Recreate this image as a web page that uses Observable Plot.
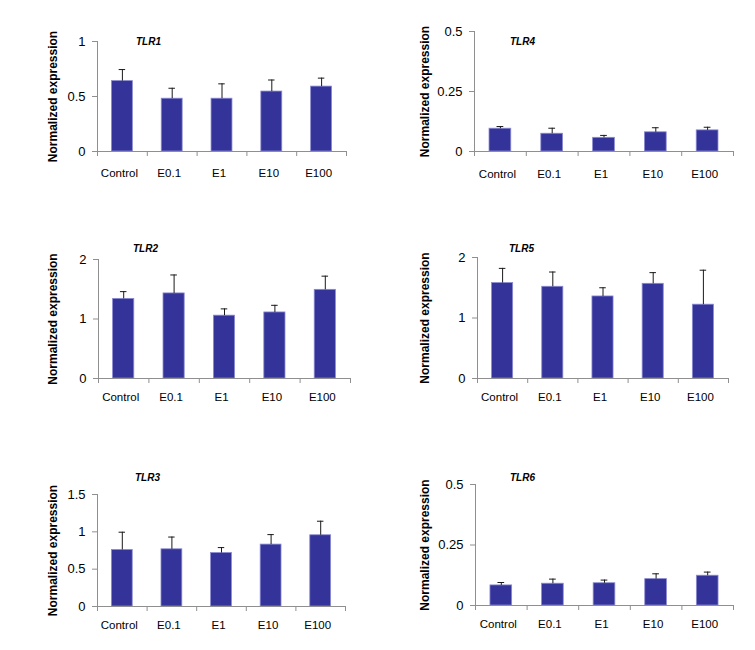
<!DOCTYPE html>
<html>
<head>
<meta charset="utf-8">
<script src="https://cdn.jsdelivr.net/npm/d3@7"></script>
<script src="https://cdn.jsdelivr.net/npm/@observablehq/plot@0.6"></script>
<style>
  html, body { margin: 0; padding: 0; background: #fff; }
  #chart { position: relative; width: 755px; height: 650px; font-family: "Liberation Sans", Arial, sans-serif; }
  #chart .panel { position: absolute; }
  #chart svg { background: transparent !important; overflow: visible; }
</style>
</head>
<body>
<div id="chart"></div>
<script>
// ---- data ----
const categories = ["Control", "E0.1", "E1", "E10", "E100"];
const yLabel = "Normalized expression";

const tlr1Mean = [0.64, 0.48, 0.48, 0.545, 0.59];
const tlr1Err  = [0.105, 0.095, 0.135, 0.105, 0.077];
const tlr1Ticks = [0, 0.5, 1];

const tlr4Mean = [0.095, 0.074, 0.057, 0.080, 0.088];
const tlr4Err  = [0.009, 0.023, 0.010, 0.019, 0.013];
const tlr4Ticks = [0, 0.25, 0.5];

const tlr2Mean = [1.338, 1.43, 1.056, 1.11, 1.49];
const tlr2Err  = [0.122, 0.31, 0.114, 0.12, 0.23];
const tlr2Ticks = [0, 1, 2];

const tlr5Mean = [1.577, 1.516, 1.356, 1.565, 1.22];
const tlr5Err  = [0.243, 0.244, 0.144, 0.185, 0.57];
const tlr5Ticks = [0, 1, 2];

const tlr3Mean = [0.757, 0.766, 0.716, 0.829, 0.954];
const tlr3Err  = [0.238, 0.164, 0.073, 0.134, 0.188];
const tlr3Ticks = [0, 0.5, 1, 1.5];

const tlr6Mean = [0.083, 0.090, 0.092, 0.109, 0.123];
const tlr6Err  = [0.012, 0.019, 0.013, 0.022, 0.015];
const tlr6Ticks = [0, 0.25, 0.5];

// ---- layout (pixel geometry of each panel) ----
const panels = [
  {title: "TLR1", mean: tlr1Mean, err: tlr1Err, ticks: tlr1Ticks, x0: 97,  x1: 346, yTop: 41,  yBot: 151, tx: 148, ty: 41,  ly: 22, labX: 52.5},
  {title: "TLR4", mean: tlr4Mean, err: tlr4Err, ticks: tlr4Ticks, x0: 474, x1: 733, yTop: 31,  yBot: 151, tx: 522, ty: 41,  ly: 23, labX: 425},
  {title: "TLR2", mean: tlr2Mean, err: tlr2Err, ticks: tlr2Ticks, x0: 98,  x1: 350, yTop: 259, yBot: 378, tx: 145, ty: 248, ly: 19, labX: 52.5},
  {title: "TLR5", mean: tlr5Mean, err: tlr5Err, ticks: tlr5Ticks, x0: 477, x1: 728, yTop: 257, yBot: 378, tx: 521, ty: 248, ly: 19, labX: 425},
  {title: "TLR3", mean: tlr3Mean, err: tlr3Err, ticks: tlr3Ticks, x0: 97,  x1: 345, yTop: 494, yBot: 606, tx: 147, ty: 477, ly: 18.5, labX: 52.5},
  {title: "TLR6", mean: tlr6Mean, err: tlr6Err, ticks: tlr6Ticks, x0: 475, x1: 733, yTop: 484, yBot: 605, tx: 522, ty: 477, ly: 19, labX: 425}
];

const ML = 60, MR = 12, MT = 25, MB = 35;
const axisColor = "#8f8f8f";
const barFill = "#333399";
const barEdge = "#8a8ad2";

const chart = document.getElementById("chart");

for (const p of panels) {
  const rows = categories.map((c, i) => ({cat: c, i, mean: p.mean[i], top: p.mean[i] + p.err[i]}));
  const ymax = p.ticks[p.ticks.length - 1];
  const svg = Plot.plot({
    width: p.x1 - p.x0 + ML + MR,
    height: p.yBot - p.yTop + MT + MB,
    marginLeft: ML, marginRight: MR, marginTop: MT, marginBottom: MB,
    style: {background: "transparent", fontFamily: "Liberation Sans, Arial, sans-serif", color: "black"},
    x: {type: "linear", domain: [0, categories.length]},
    y: {type: "linear", domain: [0, ymax]},
    marks: [
      Plot.rect(rows, {x1: d => d.i + 0.29, x2: d => d.i + 0.71, y1: 0, y2: "mean", fill: barFill, stroke: barEdge, strokeWidth: 0.8}),
      Plot.ruleX(rows, {x: d => d.i + 0.5, y1: "mean", y2: "top", stroke: "#1a1a1a", strokeWidth: 1}),
      Plot.ruleY(rows, {y: "top", x1: d => d.i + 0.5 - 0.065, x2: d => d.i + 0.5 + 0.065, stroke: "#1a1a1a", strokeWidth: 1}),
      Plot.ruleX([0], {stroke: axisColor}),
      Plot.ruleY([0], {stroke: axisColor}),
      Plot.axisY({ticks: p.ticks, tickSize: 5, tickPadding: 7, stroke: axisColor, fill: "black", fontSize: 13, tickFormat: d => String(d), label: null}),
      Plot.axisX({ticks: d3.range(categories.length + 1), tickSize: 5, stroke: axisColor, tickFormat: () => "", label: null}),
      Plot.text(rows, {x: d => d.i + 0.5, y: 0, text: "cat", dy: p.ly, dx: -3, fontSize: 11.5, fill: "black", lineAnchor: "middle"}),
      Plot.text([yLabel], {frameAnchor: "left", dx: -(p.x0 - p.labX), rotate: -90, textAnchor: "middle", lineAnchor: "middle", fontWeight: "bold", fontSize: 12, fill: "black"}),
      Plot.text([p.title], {frameAnchor: "top-left", dx: p.tx - p.x0, dy: p.ty - p.yTop, textAnchor: "middle", lineAnchor: "middle", fontWeight: "bold", fontStyle: "italic", fontSize: 10, fill: "black"})
    ]
  });
  const wrap = document.createElement("div");
  wrap.className = "panel";
  wrap.style.left = (p.x0 - ML) + "px";
  wrap.style.top = (p.yTop - MT) + "px";
  wrap.appendChild(svg);
  chart.appendChild(wrap);
}
</script>
</body>
</html>
